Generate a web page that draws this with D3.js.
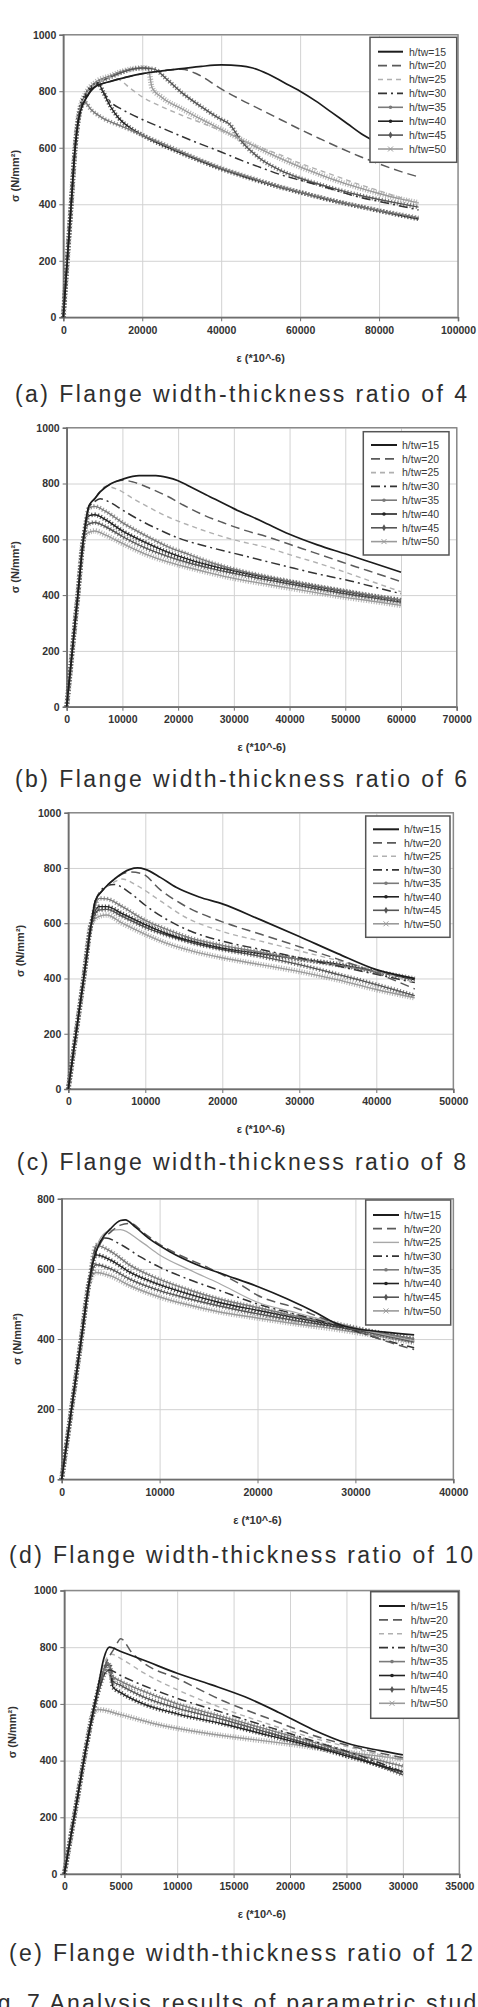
<!DOCTYPE html>
<html>
<head>
<meta charset="utf-8">
<script src="https://cdn.jsdelivr.net/npm/d3@7"></script>
<style>
body { margin: 0; background: #fff; }
svg { display: block; }
.tick text { font-family: "Liberation Sans", Arial, sans-serif; font-weight: bold; font-size: 10.5px; fill: #333; }
</style>
</head>
<body>
<svg id="fig" width="478" height="2007"></svg>
<script>
// legend labels
const seriesNames = ["h/tw=15", "h/tw=20", "h/tw=25", "h/tw=30", "h/tw=35", "h/tw=40", "h/tw=45", "h/tw=50"];

// captions
const captions = [
  "(a) Flange width-thickness ratio of 4",
  "(b) Flange width-thickness ratio of 6",
  "(c) Flange width-thickness ratio of 8",
  "(d) Flange width-thickness ratio of 10",
  "(e) Flange width-thickness ratio of 12"
];

// axis ranges / tick steps
const xMaxes = [100000, 70000, 50000, 40000, 35000];
const xSteps = [20000, 10000, 10000, 10000, 5000];
const yMaxes = [1000, 1000, 1000, 800, 1000];

// (a) ratio 4  -- [strain (*10^-6), stress N/mm2]
const a15 = [[0,0],[1000,200],[2000,400],[3000,600],[4000,710],[6000,780],[8000,815],[12000,835],[16000,850],[20000,862],[25000,872],[30000,880],[35000,888],[40000,893],[45000,890],[48000,882],[52000,860],[56000,830],[60000,800],[64000,765],[68000,725],[72000,685],[76000,645],[80000,615],[85000,585],[90000,560]];
const a20 = [[0,0],[1000,200],[2000,400],[3000,600],[4000,710],[6000,780],[8000,815],[12000,835],[16000,850],[20000,862],[25000,872],[30000,878],[34000,860],[40000,808],[45000,770],[50000,735],[55000,700],[60000,665],[65000,632],[70000,600],[75000,570],[80000,543],[85000,518],[90000,497]];
const a25 = [[0,0],[1000,200],[2000,400],[3000,600],[4000,715],[6000,790],[9000,830],[12000,848],[14000,842],[17000,810],[20000,780],[25000,745],[30000,715],[35000,688],[40000,660],[45000,630],[50000,600],[55000,575],[60000,545],[65000,520],[70000,495],[75000,470],[80000,448],[85000,425],[90000,405]];
const a30 = [[0,0],[1000,200],[2000,400],[3000,600],[4000,712],[6000,785],[8000,818],[9000,825],[10000,800],[12000,762],[15000,735],[20000,700],[25000,670],[30000,640],[35000,612],[40000,585],[45000,556],[50000,530],[55000,505],[60000,485],[64000,470],[70000,445],[75000,425],[80000,410],[85000,395],[90000,380]];
const a35 = [[0,0],[1000,200],[2000,400],[3000,600],[4500,740],[5500,760],[7000,735],[10000,705],[15000,675],[20000,645],[25000,615],[30000,585],[35000,555],[40000,528],[45000,505],[50000,483],[55000,462],[60000,443],[65000,425],[70000,408],[75000,393],[80000,378],[85000,365],[90000,352]];
const a40 = [[0,0],[1000,200],[2000,400],[3000,600],[4000,712],[6000,790],[9000,825],[10000,800],[12000,745],[14000,705],[17000,670],[20000,645],[25000,610],[30000,580],[35000,552],[40000,525],[45000,502],[50000,480],[55000,460],[60000,442],[65000,424],[70000,407],[75000,392],[80000,377],[85000,362],[90000,348]];
const a45 = [[0,0],[1000,200],[2000,400],[3000,600],[4000,720],[6000,792],[8000,822],[12000,850],[16000,872],[20000,882],[23000,878],[26000,845],[30000,795],[35000,745],[40000,700],[42000,685],[45000,625],[50000,560],[55000,520],[60000,492],[65000,470],[70000,450],[75000,432],[80000,417],[85000,403],[90000,390]];
const a50 = [[0,0],[1000,200],[2000,400],[3000,600],[4000,725],[6000,800],[8000,830],[12000,855],[16000,875],[20000,883],[21500,880],[22500,812],[25000,778],[30000,738],[35000,700],[40000,665],[45000,630],[50000,595],[55000,562],[60000,532],[65000,505],[70000,480],[75000,458],[80000,438],[85000,420],[90000,405]];

// (b) ratio 6
const b15 = [[0,0],[1000,200],[2000,400],[3000,600],[4000,720],[5000,745],[6000,770],[8000,800],[10000,815],[13000,828],[16000,828],[18000,822],[20000,810],[22000,790],[25000,760],[30000,710],[35000,665],[40000,618],[45000,580],[50000,548],[55000,515],[60000,482]];
const b20 = [[0,0],[1000,200],[2000,400],[3000,600],[4000,720],[5000,745],[6000,770],[8000,800],[10000,812],[12000,805],[15000,782],[18000,755],[21000,722],[24000,692],[28000,660],[32000,632],[36000,609],[40000,582],[44000,555],[48000,528],[52000,501],[56000,475],[60000,448]];
const b25 = [[0,0],[1000,200],[2000,400],[3000,600],[4000,718],[5000,745],[6000,772],[7000,790],[9000,780],[12000,745],[15000,712],[18000,682],[22000,650],[26000,622],[30000,598],[36000,570],[40000,545],[45000,515],[50000,482],[55000,447],[60000,412]];
const b30 = [[0,0],[1000,200],[2000,400],[3000,600],[4000,715],[5000,735],[6000,745],[8000,730],[10000,705],[13000,670],[16000,640],[20000,605],[25000,575],[30000,550],[35000,525],[40000,500],[45000,476],[50000,455],[55000,430],[60000,405]];
const b35 = [[0,0],[1000,200],[2000,400],[3000,600],[4000,712],[5000,718],[7000,700],[10000,660],[14000,615],[18000,575],[22000,545],[26000,516],[30000,493],[35000,470],[40000,450],[45000,432],[50000,415],[55000,398],[60000,382]];
const b40 = [[0,0],[1000,200],[2000,400],[3000,600],[4000,685],[5000,688],[7000,670],[10000,630],[14000,590],[18000,555],[22000,527],[26000,505],[30000,487],[35000,466],[40000,448],[45000,430],[50000,413],[55000,397],[60000,382]];
const b45 = [[0,0],[1000,200],[2000,400],[3000,600],[3500,650],[5000,660],[7000,645],[10000,610],[14000,570],[18000,540],[22000,515],[26000,495],[30000,478],[35000,458],[40000,440],[45000,422],[50000,405],[55000,390],[60000,375]];
const b50 = [[0,0],[1000,200],[2000,400],[3000,600],[3500,620],[5000,630],[7000,615],[10000,585],[14000,548],[18000,520],[22000,498],[26000,478],[30000,460],[35000,442],[40000,425],[45000,408],[50000,392],[55000,378],[60000,363]];

// (c) ratio 8
const c15 = [[0,0],[1000,200],[2000,400],[3000,600],[3500,680],[4500,720],[6000,760],[8000,795],[9000,800],[10000,795],[12000,765],[14000,730],[17000,695],[20000,670],[25000,612],[30000,552],[35000,490],[40000,432],[45000,400]];
const c20 = [[0,0],[1000,200],[2000,400],[3000,600],[3500,680],[4500,720],[6000,760],[8000,785],[9500,780],[12000,720],[15000,665],[20000,605],[25000,560],[30000,515],[35000,470],[40000,420],[45000,362]];
const c25 = [[0,0],[1000,200],[2000,400],[3000,600],[3500,680],[4500,720],[6000,750],[7000,760],[9000,735],[12000,680],[15000,625],[20000,570],[25000,535],[30000,500],[35000,465],[40000,428],[45000,385]];
const c30 = [[0,0],[1000,200],[2000,400],[3000,600],[3500,680],[5000,735],[6000,740],[8000,710],[10000,665],[13000,610],[16000,570],[20000,535],[25000,505],[30000,475],[35000,445],[40000,415],[45000,385]];
const c35 = [[0,0],[1000,200],[2000,400],[3000,600],[4000,690],[5000,688],[7000,660],[10000,610],[13000,575],[16000,545],[20000,520],[25000,495],[30000,470],[35000,448],[40000,425],[45000,400]];
const c40 = [[0,0],[1000,200],[2000,400],[3000,600],[4000,660],[5000,660],[7000,635],[10000,595],[13000,560],[16000,535],[20000,510],[25000,490],[30000,470],[35000,452],[40000,425],[45000,395]];
const c45 = [[0,0],[1000,200],[2000,400],[3000,600],[4000,648],[5000,650],[7000,625],[10000,585],[13000,555],[16000,530],[20000,505],[25000,480],[30000,450],[35000,415],[40000,378],[45000,338]];
const c50 = [[0,0],[1000,200],[2000,400],[3000,600],[4000,625],[5000,630],[7000,600],[10000,560],[13000,525],[16000,500],[20000,475],[25000,450],[30000,425],[35000,395],[40000,360],[45000,330]];

// (d) ratio 10
const d15 = [[0,0],[1000,200],[2000,400],[2800,560],[3200,620],[4000,680],[5000,715],[6000,738],[6500,740],[7500,720],[9000,685],[11000,650],[14000,610],[17000,580],[20000,550],[23000,515],[26000,475],[28000,445],[30000,430],[33000,420],[36000,412]];
const d20 = [[0,0],[1000,200],[2000,400],[2800,560],[3200,620],[4000,675],[5000,705],[6000,725],[7000,730],[8500,700],[10000,670],[12000,640],[15000,603],[18000,560],[20000,525],[24000,488],[27000,455],[30000,425],[33000,395],[36000,370]];
const d25 = [[0,0],[1000,200],[2000,400],[2800,560],[3200,620],[4000,690],[5000,710],[6000,712],[8000,680],[10000,640],[13000,598],[16000,560],[20000,505],[24000,475],[28000,445],[32000,418],[36000,395]];
const d30 = [[0,0],[1000,200],[2000,400],[2800,560],[3500,660],[4500,688],[6000,670],[8000,635],[10000,605],[13000,570],[16000,540],[20000,500],[24000,470],[28000,440],[32000,405],[36000,375]];
const d35 = [[0,0],[1000,200],[2000,400],[2800,560],[3500,668],[5000,650],[7000,610],[10000,570],[13000,540],[16000,515],[20000,490],[24000,465],[28000,445],[32000,420],[36000,400]];
const d40 = [[0,0],[1000,200],[2000,400],[2800,560],[3500,640],[5000,625],[7000,590],[10000,555],[13000,528],[16000,505],[20000,482],[24000,460],[28000,440],[32000,420],[36000,400]];
const d45 = [[0,0],[1000,200],[2000,400],[2800,560],[3500,612],[5000,600],[7000,570],[10000,538],[13000,515],[16000,495],[20000,472],[24000,452],[28000,435],[32000,415],[36000,392]];
const d50 = [[0,0],[1000,200],[2000,400],[2800,560],[3500,590],[5000,580],[7000,552],[10000,520],[13000,497],[16000,478],[20000,460],[24000,443],[28000,428],[32000,410],[36000,390]];

// (e) ratio 12
const e15 = [[0,0],[1000,230],[2000,460],[3000,660],[3500,760],[4000,800],[5000,785],[7000,755],[10000,708],[13000,668],[16000,625],[19000,570],[22000,510],[25000,462],[28000,435],[30000,420]];
const e20 = [[0,0],[1000,230],[2000,460],[3000,640],[3500,720],[4500,800],[5000,830],[6000,780],[7000,745],[10000,690],[14000,612],[18000,550],[22000,490],[26000,445],[30000,410]];
const e25 = [[0,0],[1000,230],[2000,460],[3000,650],[3500,740],[4200,775],[5000,760],[7000,710],[10000,650],[14000,585],[18000,530],[22000,480],[26000,440],[30000,400]];
const e30 = [[0,0],[1000,230],[2000,460],[3000,640],[3500,700],[4000,720],[5000,700],[7000,665],[10000,620],[14000,570],[18000,520],[22000,470],[26000,420],[30000,360]];
const e35 = [[0,0],[1000,230],[2000,460],[3000,650],[3500,720],[3900,745],[4200,700],[5000,680],[7000,645],[10000,600],[14000,555],[18000,510],[22000,465],[26000,420],[30000,380]];
const e40 = [[0,0],[1000,230],[2000,460],[3000,650],[3500,720],[4000,740],[4300,660],[5000,640],[7000,600],[10000,565],[14000,530],[18000,490],[22000,450],[26000,405],[30000,360]];
const e45 = [[0,0],[1000,230],[2000,460],[3000,640],[3500,700],[4000,720],[4300,680],[5000,665],[7000,625],[10000,585],[14000,545],[18000,500],[22000,455],[26000,410],[30000,350]];
const e50 = [[0,0],[1000,230],[2000,460],[2500,560],[3000,580],[5000,562],[8000,530],[12000,500],[16000,478],[20000,458],[24000,435],[27000,420],[30000,405]];

const chartSeries = [
  [a15, a20, a25, a30, a35, a40, a45, a50],
  [b15, b20, b25, b30, b35, b40, b45, b50],
  [c15, c20, c25, c30, c35, c40, c45, c50],
  [d15, d20, d25, d30, d35, d40, d45, d50],
  [e15, e20, e25, e30, e35, e40, e45, e50]
];

// page layout of each panel (pixels)
const layouts = [
  {l: 63.3, r: 458, t: 34.7, b: 317.3, yt: 15, xt: 362, cap: 401.5, c0: 15, c1: 467,
   lg: [370, 37.3, 456.7, 162.3], ly: 51.7, ls: 13.9, lx: [378, 403], tx: 409},
  {l: 66.7, r: 456.7, t: 427.7, b: 706.7, yt: 15, xt: 751, cap: 787, c0: 15, c1: 467,
   lg: [363.3, 431.7, 449, 555], ly: 445, ls: 13.8, lx: [371, 397], tx: 402},
  {l: 68.3, r: 453.3, t: 812.7, b: 1089, yt: 20, xt: 1133, cap: 1170, c0: 16.7, c1: 466,
   lg: [365.7, 816, 450, 937.3], ly: 829.3, ls: 13.5, lx: [373, 399], tx: 404},
  {l: 61.7, r: 453.3, t: 1198.8, b: 1479.3, yt: 17, xt: 1524, cap: 1563, c0: 9, c1: 473,
   lg: [365.7, 1200, 450.7, 1325], ly: 1215, ls: 13.7, lx: [373, 399], tx: 404},
  {l: 64.3, r: 459.3, t: 1590.5, b: 1874, yt: 12, xt: 1918, cap: 1960.7, c0: 9, c1: 473,
   lg: [370.7, 1591.7, 458.3, 1718.3], ly: 1606, ls: 13.9, lx: [379, 405], tx: 410.7}
];

// line styles per series
const styles = [
  {c: "#1c1c1c", w: 1.7, dash: null, mk: null},
  {c: "#5a5a5a", w: 1.5, dash: "9,5", mk: null},
  {c: "#b0b0b0", w: 1.4, dash: "5,4", mk: null},
  {c: "#333", w: 1.5, dash: "9,4,2,4", mk: null},
  {c: "#7a7a7a", w: 1.4, dash: null, mk: "dot"},
  {c: "#222", w: 1.4, dash: null, mk: "tri"},
  {c: "#555", w: 1.4, dash: null, mk: "dia"},
  {c: "#9a9a9a", w: 1.4, dash: null, mk: "x"}
];

const capFont = "Liberation Sans, Arial, sans-serif";
const svg = d3.select("#fig");
const fmt = d3.format("d");

function drawPanel(i) {
  const L = layouts[i];
  const data = chartSeries[i];
  const x = d3.scaleLinear().domain([0, xMaxes[i]]).range([L.l, L.r]);
  const y = d3.scaleLinear().domain([0, yMaxes[i]]).range([L.b, L.t]);
  const xt = d3.range(0, xMaxes[i] + 1, xSteps[i]);
  const yt = d3.range(0, yMaxes[i] + 1, 200);
  const g = svg.append("g");

  // grid
  g.append("g").attr("transform", `translate(0,${L.b})`)
    .call(d3.axisBottom(x).tickValues(xt).tickSize(-(L.b - L.t)).tickFormat(""))
    .call(s => s.select(".domain").remove())
    .selectAll("line").attr("stroke", "#d2d2d2").attr("stroke-width", 1);
  g.append("g").attr("transform", `translate(${L.l},0)`)
    .call(d3.axisLeft(y).tickValues(yt).tickSize(-(L.r - L.l)).tickFormat(""))
    .call(s => s.select(".domain").remove())
    .selectAll("line").attr("stroke", "#d2d2d2").attr("stroke-width", 1);

  // frame
  g.append("rect").attr("x", L.l).attr("y", L.t)
    .attr("width", L.r - L.l).attr("height", L.b - L.t)
    .attr("fill", "none").attr("stroke", "#8a8a8a").attr("stroke-width", 1.4);

  // axes
  const ax = g.append("g").attr("transform", `translate(0,${L.b})`)
    .call(d3.axisBottom(x).tickValues(xt).tickSize(4).tickPadding(5).tickFormat(fmt));
  const ay = g.append("g").attr("transform", `translate(${L.l},0)`)
    .call(d3.axisLeft(y).tickValues(yt).tickSize(4).tickPadding(3).tickFormat(fmt));
  [ax, ay].forEach(a => {
    a.select(".domain").attr("stroke", "#6e6e6e").attr("stroke-width", 1.6);
    a.selectAll(".tick line").attr("stroke", "#6e6e6e");
  });

  // series
  const line = d3.line().x(d => x(d[0])).y(d => y(d[1])).curve(d3.curveMonotoneX);
  const order = [7, 6, 5, 4, 3, 2, 1, 0];
  order.forEach(k => {
    const st = styles[k];
    let c = st.c, dash = st.dash, w = st.w;
    if (i === 3 && k === 2) { c = "#a8a8a8"; dash = null; w = 1.2; }
    g.append("path").attr("d", line(data[k])).attr("fill", "none")
      .attr("stroke", c).attr("stroke-width", w)
      .attr("stroke-dasharray", dash);
    if (st.mk) {
      g.append("path").attr("d", line(data[k])).attr("fill", "none")
        .attr("stroke", c).attr("stroke-width", st.mk === "x" ? 5.5 : 4.5)
        .attr("stroke-opacity", 0.75)
        .attr("stroke-dasharray", st.mk === "x" ? "1,1.6" : "1.2,2");
    }
  });

  // legend
  const [bx0, by0, bx1, by1] = L.lg;
  g.append("rect").attr("x", bx0).attr("y", by0)
    .attr("width", bx1 - bx0).attr("height", by1 - by0)
    .attr("fill", "#fff").attr("stroke", "#555").attr("stroke-width", 1.5);
  seriesNames.forEach((name, k) => {
    const st = styles[k];
    const ly = L.ly + k * L.ls;
    let c = st.c, dash = st.dash, w = st.w;
    if (i === 3 && k === 2) { c = "#a8a8a8"; dash = null; w = 1.2; }
    g.append("line").attr("x1", L.lx[0]).attr("x2", L.lx[1]).attr("y1", ly).attr("y2", ly)
      .attr("stroke", c).attr("stroke-width", k === 0 ? 2 : w + 0.2).attr("stroke-dasharray", dash);
    const mx = (L.lx[0] + L.lx[1]) / 2;
    if (st.mk === "dot" || st.mk === "tri") {
      g.append("circle").attr("cx", mx).attr("cy", ly).attr("r", 1.8).attr("fill", c);
    } else if (st.mk === "dia") {
      g.append("path").attr("d", d3.symbol(d3.symbolDiamond, 14)()).attr("transform", `translate(${mx},${ly})`).attr("fill", c);
    } else if (st.mk === "x") {
      g.append("path").attr("d", d3.symbol(d3.symbolTimes, 18)()).attr("transform", `translate(${mx},${ly})`)
        .attr("fill", "none").attr("stroke", c).attr("stroke-width", 1);
    }
    g.append("text").attr("x", L.tx).attr("y", ly + 3.8)
      .attr("font-family", "Liberation Sans, Arial, sans-serif").attr("font-size", 10.5)
      .attr("fill", "#3a3a3a").text(name);
  });

  // axis titles
  g.append("text")
    .attr("transform", `translate(${L.yt},${(L.t + L.b) / 2}) rotate(-90)`)
    .attr("text-anchor", "middle").attr("dy", "0.35em")
    .attr("font-family", "Liberation Sans, Arial, sans-serif").attr("font-weight", "bold")
    .attr("font-size", 11).attr("fill", "#333")
    .text("σ  (N/mm²)");
  g.append("text")
    .attr("x", (L.l + L.r) / 2).attr("y", L.xt)
    .attr("text-anchor", "middle")
    .attr("font-family", "Liberation Sans, Arial, sans-serif").attr("font-weight", "bold")
    .attr("font-size", 11).attr("fill", "#333")
    .text("ε  (*10^-6)");

  // caption
  g.append("text").attr("x", L.c0).attr("y", L.cap)
    .attr("font-family", capFont)
    .attr("font-size", 23).attr("fill", "#2e2e2e")
    .attr("textLength", L.c1 - L.c0).attr("lengthAdjust", "spacing")
    .text(captions[i]);
}

d3.range(5).forEach(drawPanel);

// figure title, cut off at page bottom
svg.append("text").attr("x", 17).attr("y", 2011).attr("text-anchor", "end")
  .attr("font-family", capFont)
  .attr("font-size", 23).attr("fill", "#2e2e2e").text("Fig.");
svg.append("text").attr("x", 27).attr("y", 2011)
  .attr("font-family", capFont)
  .attr("font-size", 23).attr("fill", "#2e2e2e")
  .attr("textLength", 463).attr("lengthAdjust", "spacing")
  .text("7 Analysis results of parametric study");
</script>
</body>
</html>
